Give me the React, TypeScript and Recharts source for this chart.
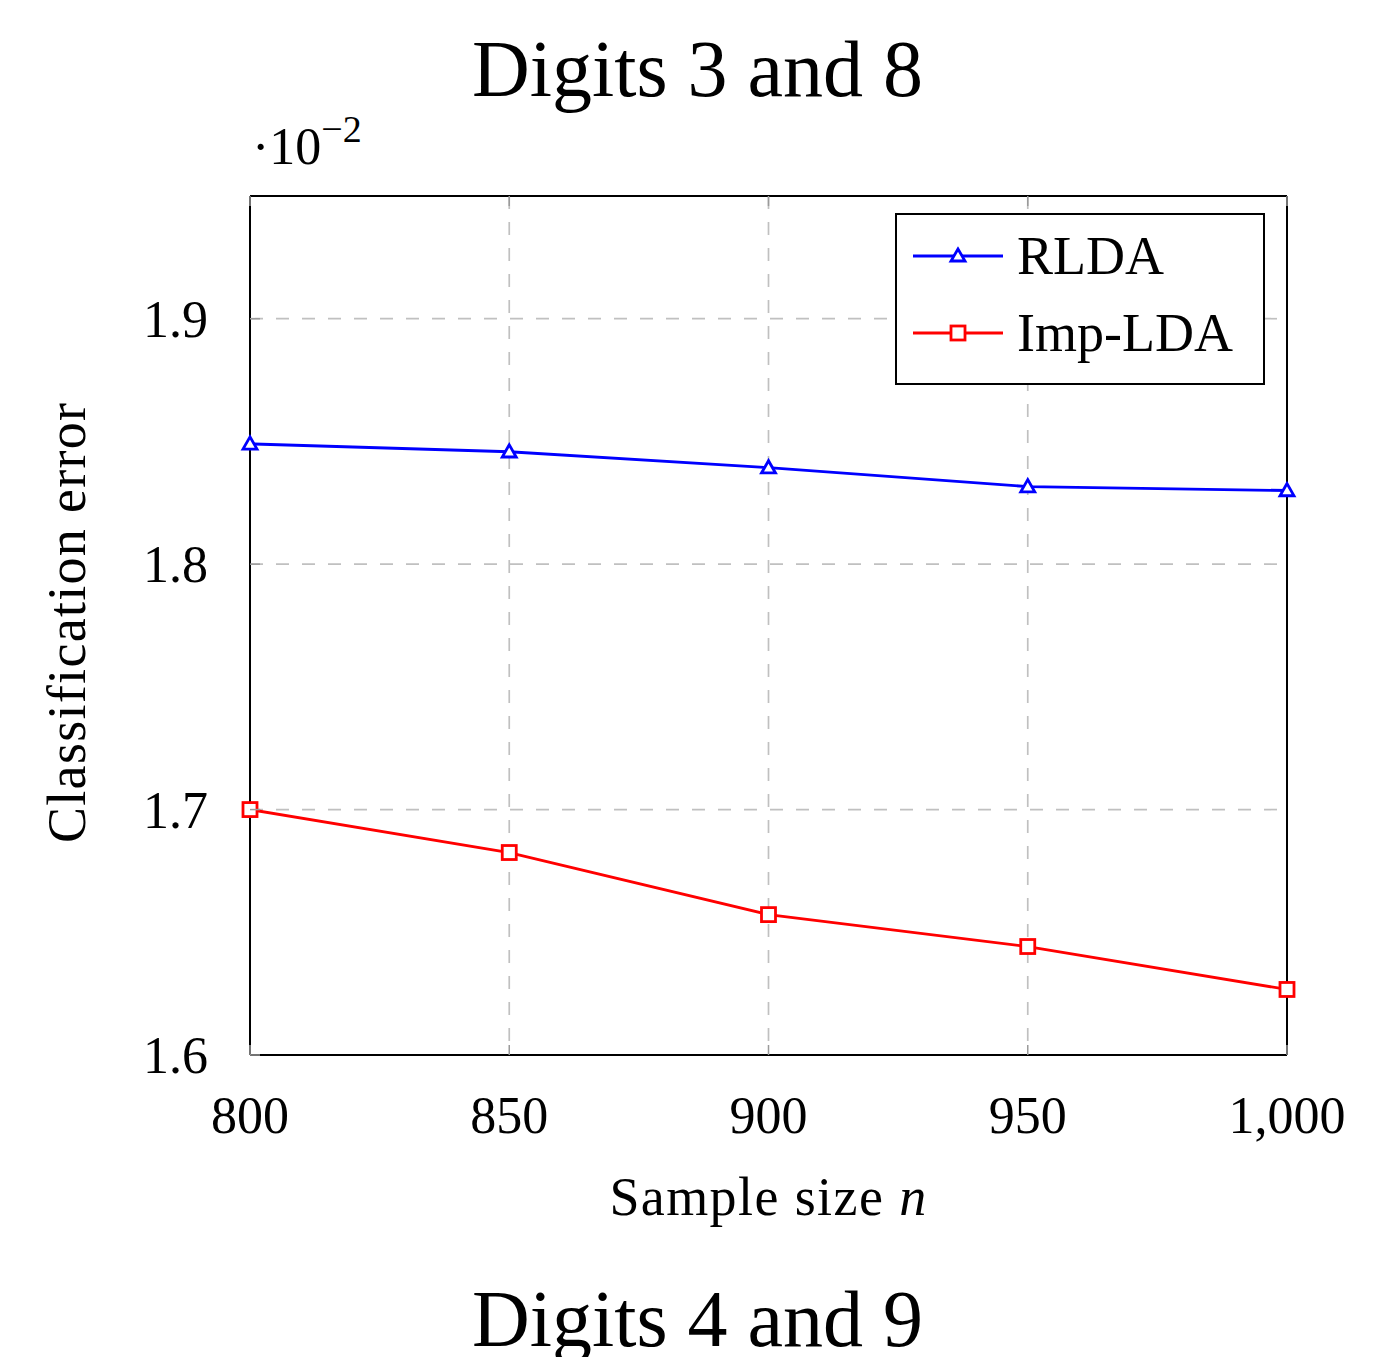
import { LineChart, Line, XAxis, YAxis, CartesianGrid, Legend } from 'recharts';

const sampleSizes = [800, 850, 900, 950, 1000];
const rldaError = [1.849, 1.8458, 1.8393, 1.8316, 1.830];
const impLdaError = [1.700, 1.6825, 1.6572, 1.6442, 1.6267];
const xTicks = [800, 850, 900, 950, 1000];
const yTicks = [1.6, 1.7, 1.8, 1.9];

const chartData = sampleSizes.map((n, i) => ({
  n,
  rlda: rldaError[i],
  imp: impLdaError[i],
}));

const FONT = '"Liberation Serif", "DejaVu Serif", serif';
const BLUE = '#0000ff';
const RED = '#ff0000';
const TICK_GRAY = '#9a9a9a';

function Triangle({ cx, cy, color }: any) {
  if (cx == null || cy == null) return null;
  const s = 7;
  return (
    <polygon
      points={`${cx},${cy - s} ${cx - s},${cy + s * 0.75} ${cx + s},${cy + s * 0.75}`}
      fill="white"
      stroke={color}
      strokeWidth={2.8}
    />
  );
}

function Square({ cx, cy, color }: any) {
  if (cx == null || cy == null) return null;
  const s = 7;
  return <rect x={cx - s} y={cy - s} width={2 * s} height={2 * s} fill="white" stroke={color} strokeWidth={2.8} />;
}

function LeftTick({ x, y, payload }: any) {
  const ax = x + 42;
  return (
    <g>
      <line x1={ax} x2={ax + 10} y1={y} y2={y} stroke={TICK_GRAY} strokeWidth={1.5} />
      <text x={x} y={y + 18} textAnchor="end" fontFamily={FONT} fontSize={52} fill="#000">
        {payload.value.toFixed(1)}
      </text>
    </g>
  );
}

function RightTick({ x, y }: any) {
  return <line x1={x} x2={x - 10} y1={y} y2={y} stroke={TICK_GRAY} strokeWidth={1.5} />;
}

function BottomTick({ x, y, payload }: any) {
  const ay = y - 41;
  return (
    <g>
      <line x1={x} x2={x} y1={ay} y2={ay - 10} stroke={TICK_GRAY} strokeWidth={1.5} />
      <text x={x} y={y + 37} textAnchor="middle" fontFamily={FONT} fontSize={52} fill="#000">
        {payload.value.toLocaleString('en-US')}
      </text>
    </g>
  );
}

function TopTick({ x, y }: any) {
  return <line x1={x} x2={x} y1={y} y2={y + 10} stroke={TICK_GRAY} strokeWidth={1.5} />;
}

function LegendBox() {
  const rows = [
    { name: 'RLDA', color: BLUE, marker: 'tri' },
    { name: 'Imp-LDA', color: RED, marker: 'sq' },
  ];
  return (
    <div
      style={{
        width: 370,
        height: 172,
        border: '2px solid #000',
        background: 'white',
        boxSizing: 'border-box',
        paddingTop: 2,
      }}
    >
      {rows.map((r) => (
        <div key={r.name} style={{ display: 'flex', alignItems: 'center', height: 77 }}>
          <svg width={120} height={40} style={{ flex: 'none' }}>
            <line x1={16} x2={106} y1={20} y2={20} stroke={r.color} strokeWidth={2.8} />
            {r.marker === 'tri' ? (
              <polygon points="61,13 54,25 68,25" fill="white" stroke={r.color} strokeWidth={2.8} />
            ) : (
              <rect x={54} y={13} width={14} height={14} fill="white" stroke={r.color} strokeWidth={2.8} />
            )}
          </svg>
          <span style={{ fontFamily: FONT, fontSize: 54, lineHeight: 1, color: '#000' }}>{r.name}</span>
        </div>
      ))}
    </div>
  );
}

export default function App() {
  return (
    <div
      style={{
        position: 'absolute',
        left: 0,
        top: 0,
        width: 1387,
        height: 1357,
        overflow: 'hidden',
        background: 'white',
        fontFamily: FONT,
      }}
    >
      <div
        style={{
          position: 'absolute',
          left: 0,
          width: 1395,
          top: 29,
          textAlign: 'center',
          fontSize: 80,
          lineHeight: 1,
        }}
      >
        Digits 3 and 8
      </div>
      <div style={{ position: 'absolute', left: 252, top: 114, fontSize: 52, lineHeight: 1 }}>
        ·10<sup style={{ fontSize: 38, position: 'relative', top: -4 }}>−2</sup>
      </div>
      <div
        style={{
          position: 'absolute',
          left: 0,
          width: 1395,
          top: 1279,
          textAlign: 'center',
          fontSize: 80,
          lineHeight: 1,
        }}
      >
        Digits 4 and 9
      </div>
      <div
        style={{
          position: 'absolute',
          left: 0,
          width: 1387,
          top: 1170,
          paddingLeft: 150,
          boxSizing: 'border-box',
          textAlign: 'center',
          fontSize: 54,
          lineHeight: 1,
          letterSpacing: 1.4,
        }}
      >
        Sample size <i>n</i>
      </div>
      <div
        style={{
          position: 'absolute',
          left: 40,
          top: 624,
          fontSize: 54,
          lineHeight: 1,
          whiteSpace: 'nowrap',
          transform: 'rotate(-90deg)',
          transformOrigin: '0 0',
          letterSpacing: 1.3,
        }}
      >
        <span style={{ position: 'absolute', left: -219, top: 0 }}>Classification error</span>
      </div>
      <LineChart
        width={1387}
        height={1357}
        data={chartData}
        margin={{ top: 186, right: 90, left: 200, bottom: 252 }}
        style={{ position: 'absolute', left: 0, top: 0 }}
      >
        <CartesianGrid stroke="#c0c0c0" strokeWidth={1.7} strokeDasharray="13 13" xAxisId="bottom" yAxisId="left" />
        <XAxis
          xAxisId="bottom"
          dataKey="n"
          type="number"
          domain={[800, 1000]}
          ticks={xTicks}
          height={50}
          tickSize={0}
          tickMargin={41}
          tickLine={false}
          axisLine={{ stroke: '#000', strokeWidth: 2 }}
          tick={<BottomTick />}
          interval={0}
        />
        <XAxis
          xAxisId="top"
          orientation="top"
          dataKey="n"
          type="number"
          domain={[800, 1000]}
          ticks={xTicks}
          height={10}
          tickSize={0}
          tickMargin={0}
          tickLine={false}
          axisLine={{ stroke: '#000', strokeWidth: 2 }}
          tick={<TopTick />}
          interval={0}
        />
        <YAxis
          yAxisId="left"
          type="number"
          domain={[1.6, 1.95]}
          ticks={yTicks}
          width={50}
          tickSize={0}
          tickMargin={42}
          tickLine={false}
          axisLine={{ stroke: '#000', strokeWidth: 2 }}
          tick={<LeftTick />}
          interval={0}
        />
        <YAxis
          yAxisId="right"
          orientation="right"
          type="number"
          domain={[1.6, 1.95]}
          ticks={yTicks}
          width={10}
          tickSize={0}
          tickMargin={0}
          tickLine={false}
          axisLine={{ stroke: '#000', strokeWidth: 2 }}
          tick={<RightTick />}
          interval={0}
        />
        <Legend
          layout="vertical"
          align="center"
          verticalAlign="middle"
          wrapperStyle={{ left: 895, top: 213, width: 370, height: 172 }}
          content={() => <LegendBox />}
        />
        <Line
          xAxisId="bottom"
          yAxisId="left"
          dataKey="rlda"
          name="RLDA"
          stroke={BLUE}
          strokeWidth={2.8}
          dot={<Triangle color={BLUE} />}
          isAnimationActive={false}
        />
        <Line
          xAxisId="bottom"
          yAxisId="left"
          dataKey="imp"
          name="Imp-LDA"
          stroke={RED}
          strokeWidth={2.8}
          dot={<Square color={RED} />}
          isAnimationActive={false}
        />
      </LineChart>
    </div>
  );
}
